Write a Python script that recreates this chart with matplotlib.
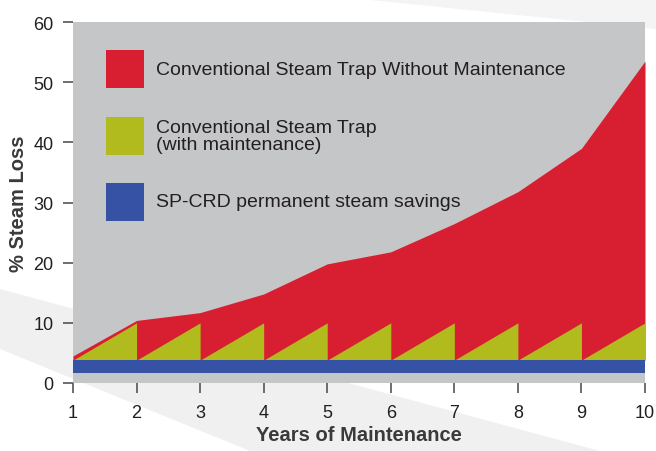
import matplotlib.pyplot as plt
from matplotlib.patches import Rectangle, Polygon

# data
years = [1, 2, 3, 4, 5, 6, 7, 8, 9, 10]
no_maint = [4.5, 10.4, 11.7, 14.8, 19.8, 21.8, 26.5, 31.8, 39.0, 53.5]
maint_base = 3.8
maint_peak = 10.0
sp_low = 1.7
sp_high = 3.8

labels = ["Conventional Steam Trap Without Maintenance",
          "Conventional Steam Trap\n(with maintenance)",
          "SP-CRD permanent steam savings"]
colors = ["#d81f32", "#b2bb1e", "#3652a4"]
gray = "#c5c6c8"
ink = "#231f20"

plt.rcParams['font.family'] = ['Liberation Sans', 'DejaVu Sans']

W, H = 656, 452
fig = plt.figure(figsize=(W/100, H/100), dpi=100)
fig.patch.set_facecolor("white")

def px(pts):
    # pixel coords (top-left origin) -> figure fraction
    return [(x/W, 1 - y/H) for x, y in pts]

# faint background swooshes
fig.patches.append(Polygon(px([(0, 290), (0, 350), (250, 452), (600, 452)]),
                           closed=True, transform=fig.transFigure,
                           facecolor="#f0f0f0", edgecolor="none", zorder=-1))
fig.patches.append(Polygon(px([(360, 0), (656, 0), (656, 30)]),
                           closed=True, transform=fig.transFigure,
                           facecolor="#f4f4f4", edgecolor="none", zorder=-1))

ax = fig.add_axes([73/W, 1 - 384/H, 572/W, 361/H])
ax.set_facecolor(gray)

# sawtooth for the maintained trap: rises each year, drops back after service
saw_x = []
saw_y = []
for i in range(len(years) - 1):
    saw_x += [years[i], years[i + 1]]
    saw_y += [maint_base, maint_peak]

ax.fill_between(years, sp_high, no_maint, color=colors[0], lw=0)
ax.fill_between(saw_x, maint_base, saw_y, color=colors[1], lw=0)
ax.fill_between([years[0], years[-1]], sp_low, sp_high, color=colors[2], lw=0)

ax.set_xlim(1, 10)
ax.set_ylim(0, 60)
ax.set_xticks(years)
ax.set_yticks(range(0, 61, 10))
for s in ax.spines.values():
    s.set_visible(False)
ax.tick_params(axis='both', direction='out', length=7, width=1.2,
               color="#555555", labelsize=13, labelcolor=ink)
ax.tick_params(axis='x', pad=8)
ax.tick_params(axis='y', pad=7)

ax.set_xlabel("Years of Maintenance", fontsize=14.5, fontweight='bold',
              color="#3a3a3a", labelpad=3)
ax.set_ylabel("% Steam Loss", fontsize=14.5, fontweight='bold',
              color="#3a3a3a", labelpad=4)

# legend drawn by hand inside the plot area
sq_w = 38/572
sq_h = 38/361
rows = [0.817, 0.632, 0.449]
for lab, col, yb in zip(labels, colors, rows):
    ax.add_patch(Rectangle((0.0577, yb), sq_w, sq_h, transform=ax.transAxes,
                           facecolor=col, edgecolor="none", zorder=5))
    ax.text(0.145, yb + sq_h/2, lab, transform=ax.transAxes, va='center',
            ha='left', fontsize=14, color=ink, linespacing=0.95, zorder=5)

fig.savefig("out.png", dpi=100)
